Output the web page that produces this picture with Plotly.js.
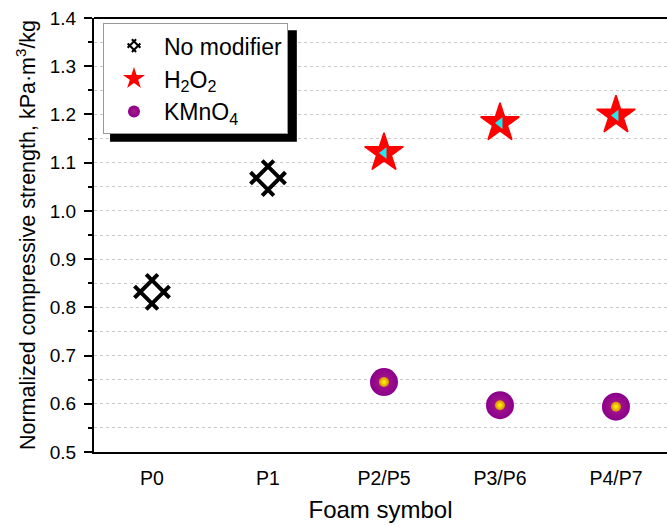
<!DOCTYPE html>
<html>
<head>
<meta charset="utf-8">
<script src="https://cdn.plot.ly/plotly-3.0.1.min.js"></script>
<style>html,body{margin:0;padding:0;background:#fff;}#chart{width:667px;height:526px;}</style>
</head>
<body>
<div id="chart"></div>
<script>
var categories = ["P0", "P1", "P2/P5", "P3/P6", "P4/P7"];
var noModifierCats = ["P0", "P1"];
var noModifierVals = [0.832, 1.068];
var h2o2Cats = ["P2/P5", "P3/P6", "P4/P7"];
var h2o2Vals = [1.12, 1.182, 1.198];
var kmno4Cats = ["P2/P5", "P3/P6", "P4/P7"];
var kmno4Vals = [0.645, 0.597, 0.594];
var yTickVals = [0.5, 0.6, 0.7, 0.8, 0.9, 1.0, 1.1, 1.2, 1.3, 1.4];
var yTickText = ["0.5", "0.6", "0.7", "0.8", "0.9", "1.0", "1.1", "1.2", "1.3", "1.4"];

var font = "Liberation Sans, Arial, sans-serif";

var traces = [
  {
    x: noModifierCats, y: noModifierVals, type: "scatter", mode: "markers",
    name: "No modifier",
    marker: {symbol: "hash-open", angle: 45, size: 33, color: "#000", line: {color: "#000", width: 4}}
  },
  {
    x: h2o2Cats, y: h2o2Vals, type: "scatter", mode: "markers",
    name: "H<sub>2</sub>O<sub>2</sub>",
    marker: {symbol: "star", size: 29, color: "#ff0000", line: {color: "#ff0000", width: 1.5}}
  },
  {
    x: h2o2Cats, y: h2o2Vals, type: "scatter", mode: "markers",
    showlegend: false, hoverinfo: "skip",
    marker: {symbol: "triangle-left", size: 10, color: "#20e8f0", line: {width: 0}}
  },
  {
    x: kmno4Cats, y: kmno4Vals, type: "scatter", mode: "markers",
    name: "KMnO<sub>4</sub>",
    marker: {symbol: "circle", size: 28, color: "#8b008b", line: {width: 0},
             gradient: {type: "radial", color: "#a81c8a"}}
  },
  {
    x: kmno4Cats, y: kmno4Vals, type: "scatter", mode: "markers",
    showlegend: false, hoverinfo: "skip",
    marker: {symbol: "circle", size: 10, color: "#d98a10", line: {width: 0},
             gradient: {type: "radial", color: "#ffff00"}}
  }
];

var layout = {
  width: 667, height: 526,
  margin: {l: 94, r: 0, t: 18, b: 74},
  paper_bgcolor: "#fff", plot_bgcolor: "#fff",
  font: {family: font, size: 19, color: "#000"},
  showlegend: true,
  legend: {
    x: 0.0157, y: 0.988, xanchor: "left", yanchor: "top",
    bgcolor: "#fff", bordercolor: "#999", borderwidth: 1,
    font: {family: font, size: 23, color: "#000"},
    itemsizing: "constant", itemwidth: 50
  },
  xaxis: {
    type: "category", categoryorder: "array", categoryarray: categories,
    range: [-0.5, 4.44],
    showline: true, linecolor: "#000", linewidth: 2,
    ticks: "", showgrid: false, zeroline: false,
    ticklabelstandoff: 8,
    tickfont: {family: font, size: 19.5, color: "#000"},
    title: {text: "Foam symbol", font: {family: font, size: 24, color: "#000"}, standoff: 13}
  },
  yaxis: {
    range: [0.5, 1.4],
    tickvals: yTickVals, ticktext: yTickText,
    showline: true, linecolor: "#000", linewidth: 2,
    ticks: "outside", ticklen: 8, tickwidth: 2, tickcolor: "#000",
    ticklabelstandoff: 4,
    minor: {dtick: 0.05, ticks: "outside", ticklen: 4, tickwidth: 2, tickcolor: "#000",
            showgrid: true, gridcolor: "#c8c8c8", griddash: "dot", gridwidth: 1},
    showgrid: true, gridcolor: "#c8c8c8", griddash: "dot", gridwidth: 1,
    zeroline: false,
    tickfont: {family: font, size: 19, color: "#000"},
    title: {text: "Normalized compressive strength, kPa·m<sup>3</sup>/kg",
            font: {family: font, size: 21.5, color: "#000"}, standoff: 8}
  },
  shapes: [
    {type: "line", xref: "paper", yref: "paper", x0: 0, x1: 1, y0: 1, y1: 1,
     line: {color: "#000", width: 2}},
    {type: "rect", xref: "paper", yref: "paper", x0: 0.028, x1: 0.354, y0: 0.715, y1: 0.972,
     fillcolor: "#000", line: {width: 0}, layer: "above"}
  ]
};

Plotly.newPlot("chart", traces, layout, {displayModeBar: false, staticPlot: true});
</script>
</body>
</html>
